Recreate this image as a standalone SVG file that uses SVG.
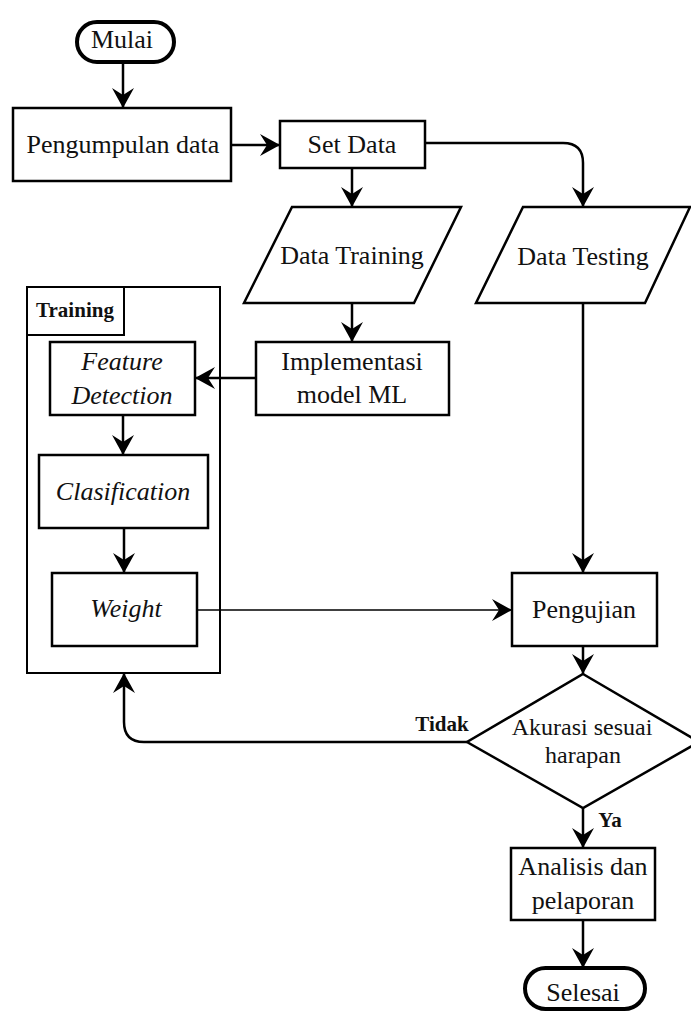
<svg xmlns="http://www.w3.org/2000/svg" width="691" height="1013" viewBox="0 0 691 1013">
  <style>
    .box { fill: #fff; stroke: #000; stroke-width: 2.5; }
    .term { fill: #fff; stroke: #000; stroke-width: 4; }
    .frame { fill: #fff; stroke: #000; stroke-width: 2; }
    .edge { fill: none; stroke: #000; stroke-width: 2.5; marker-end: url(#arr); }
    .thin { stroke-width: 1.6; }
    text { font-family: "Liberation Serif", "Times New Roman", serif; font-size: 26px; fill: #111; text-anchor: middle; }
    .it { font-style: italic; }
    .sm { font-size: 24px; }
    .lbl { font-weight: bold; font-size: 21px; }
  </style>
  <defs>
    <marker id="arr" markerUnits="userSpaceOnUse" markerWidth="22" markerHeight="24" viewBox="-21 -12 22 24" refX="0" refY="0" orient="auto" overflow="visible">
      <path d="M-20,-11 L0,0 L-20,11 L-13,0 Z" fill="#000"/>
    </marker>
  </defs>

  <rect width="691" height="1013" fill="#fff"/>

  <!-- training container (drawn first, sits behind its steps) -->
  <g id="training-group">
    <rect class="frame" x="27" y="287" width="193" height="386"/>
    <rect class="frame" x="27" y="287" width="97" height="48"/>
    <text class="lbl" x="75" y="317">Training</text>
  </g>

  <g id="mulai">
    <rect class="term" x="77" y="22" width="97" height="40" rx="20" ry="20"/>
    <text x="122" y="48">Mulai</text>
  </g>

  <g id="pengumpulan">
    <rect class="box" x="13" y="108" width="218" height="73"/>
    <text x="123" y="153">Pengumpulan data</text>
  </g>

  <g id="set-data">
    <rect class="box" x="280" y="121" width="145" height="47"/>
    <text x="352" y="153">Set Data</text>
  </g>

  <g id="data-training">
    <polygon class="box" points="292,207 461,207 414,303 244,303"/>
    <text x="352" y="264">Data Training</text>
  </g>

  <g id="data-testing">
    <polygon class="box" points="523,207 690,207 645,303 476,303"/>
    <text x="583" y="265">Data Testing</text>
  </g>

  <g id="implementasi">
    <rect class="box" x="256" y="342" width="193" height="73"/>
    <text x="352" y="370">Implementasi</text>
    <text x="352" y="403">model ML</text>
  </g>

  <g id="feature-detection">
    <rect class="box" x="50" y="342" width="145" height="73"/>
    <text class="it" x="122" y="370">Feature</text>
    <text class="it" x="122" y="404">Detection</text>
  </g>

  <g id="clasification">
    <rect class="box" x="39" y="455" width="169" height="73"/>
    <text class="it" x="123" y="500">Clasification</text>
  </g>

  <g id="weight">
    <rect class="box" x="52" y="573" width="145" height="73"/>
    <text class="it" x="126" y="617">Weight</text>
  </g>

  <g id="pengujian">
    <rect class="box" x="512" y="573" width="145" height="73"/>
    <text x="584" y="618">Pengujian</text>
  </g>

  <g id="akurasi">
    <polygon class="box" points="583,674 699,742 583,808 467,742"/>
    <text class="sm" x="582" y="735">Akurasi sesuai</text>
    <text class="sm" x="583" y="763">harapan</text>
  </g>

  <g id="analisis">
    <rect class="box" x="511" y="848" width="144" height="72"/>
    <text x="583" y="875">Analisis dan</text>
    <text x="583" y="909">pelaporan</text>
  </g>

  <g id="selesai">
    <rect class="term" x="525" y="968" width="120" height="41" rx="20.5" ry="20.5"/>
    <text x="583" y="1001">Selesai</text>
  </g>

  <!-- connectors -->
  <g id="connectors">
    <path class="edge" d="M123,62 V108"/>
    <path class="edge" d="M231,145 H280"/>
    <path class="edge" d="M352,168 V207"/>
    <path class="edge" d="M425,143 H563 Q583,143 583,163 V207"/>
    <path class="edge" d="M352,303 V342"/>
    <path class="edge" d="M256,378 H195"/>
    <path class="edge" d="M123,415 V455"/>
    <path class="edge" d="M124,528 V573"/>
    <path class="edge thin" d="M197,610 H512"/>
    <path class="edge" d="M583,303 V573"/>
    <path class="edge" d="M583,646 V674"/>
    <path class="edge" d="M467,742 H144 Q124,742 124,722 V673"/>
    <path class="edge" d="M583,808 V848"/>
    <path class="edge" d="M583,920 V968"/>
    <text class="lbl" x="442" y="731">Tidak</text>
    <text class="lbl" x="610" y="827">Ya</text>
  </g>
</svg>
